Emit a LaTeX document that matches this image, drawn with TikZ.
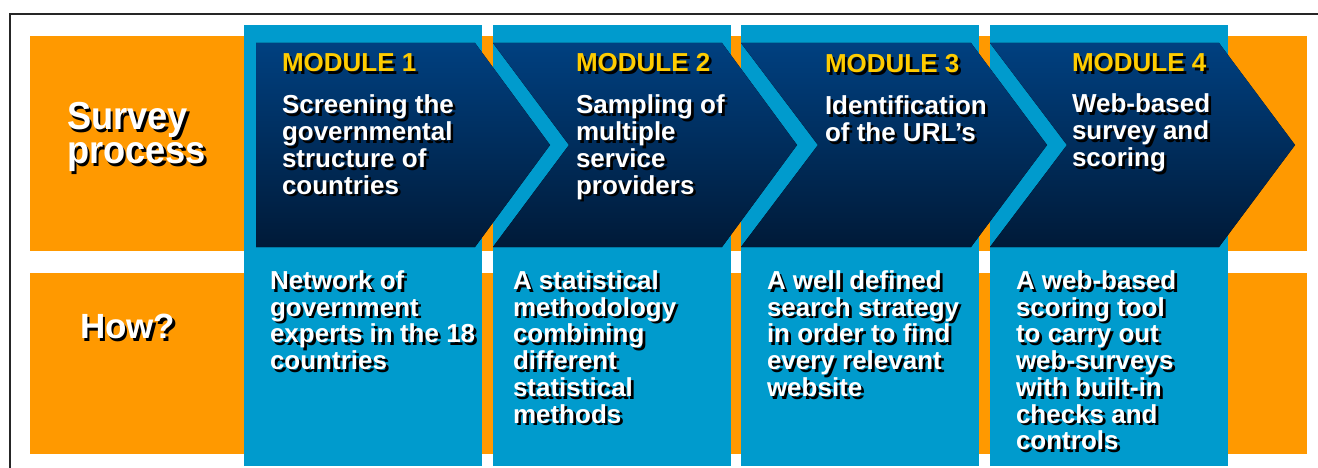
\documentclass[tikz,border=0pt]{standalone}
\usepackage{fontspec}
\setmainfont{Liberation Sans}
\definecolor{orng}{RGB}{255,153,0}
\definecolor{lblue}{RGB}{0,155,205}
\definecolor{navytop}{RGB}{0,64,128}
\definecolor{navybot}{RGB}{0,26,56}
\definecolor{ylw}{RGB}{255,204,0}
\tikzset{
  band/.style={fill=orng},
  column/.style={fill=lblue},
  chevron/.style={top color=navytop, bottom color=navybot, middle color=navybot!50!navytop},
  lbl/.style={anchor=base west, inner sep=0pt, outer sep=0pt, text=white},
  big/.style={lbl, font=\fontsize{39}{34.5}\selectfont\bfseries},
  how/.style={lbl, font=\fontsize{35}{36}\selectfont\bfseries},
  modhead/.style={lbl, text=ylw, font=\fontsize{26}{26.7}\selectfont\bfseries},
  body/.style={lbl, font=\fontsize{26}{26.7}\selectfont\bfseries},
}
\newcommand\shlabel[5][1]{%
  \node[#4, text=black] (#2s) at ([shift={(2.7,2.7)}]#3) {\scalebox{#1}[1]{\parbox[t]{300pt}{\raggedright #5}}};
  \node[#4] (#2) at (#3) {\scalebox{#1}[1]{\parbox[t]{300pt}{\raggedright #5}}};}
\begin{document}
\begin{tikzpicture}[x=1pt,y=-1pt]
\useasboundingbox (0,0) rectangle (1318,468);
\fill[white] (0,0) rectangle (1318,468);
% frame
\draw[line width=1.5pt, black!85] (10,470) -- (10,14) -- (1320,14);
% orange bands
\fill[band] (30,36) rectangle (1307,251);
\fill[band] (30,273) rectangle (1307,454);
% blue columns
\fill[column] (244,25) rectangle (482,466);
\fill[column] (493,25) rectangle (731,466);
\fill[column] (741,25) rectangle (979,466);
\fill[column] (990,25) rectangle (1228,466);
% chevrons
\fill[chevron] (256,43) -- (475,43) -- (550,145) -- (475,247) -- (256,247) -- cycle;
\fill[chevron] (493,43) -- (722,43) -- (797,145) -- (722,247) -- (493,247) -- (569,145) -- cycle;
\fill[chevron] (741,43) -- (971,43) -- (1047,145) -- (971,247) -- (741,247) -- (818,145) -- cycle;
\fill[chevron] (990,43) -- (1219,43) -- (1295,145) -- (1219,247) -- (990,247) -- (1067,145) -- cycle;
% row labels
\shlabel[0.93]{survey}{67,129.5}{big}{Survey\\process}
\shlabel{how}{80,338.5}{how}{How?}
% module headings
\shlabel{m1}{282,71.5}{modhead}{MODULE 1}
\shlabel{m2}{576,71.5}{modhead}{MODULE 2}
\shlabel{m3}{825,72.5}{modhead}{MODULE 3}
\shlabel{m4}{1072,71.5}{modhead}{MODULE 4}
% module texts
\shlabel{t1}{282,114}{body}{Screening the\\governmental\\structure of\\countries}
\shlabel{t2}{576,114}{body}{Sampling of\\multiple\\service\\providers}
\shlabel{t3}{825,115}{body}{Identification\\of the URL’s}
\shlabel{t4}{1072,113}{body}{Web-based\\survey and\\scoring}
% how texts
\shlabel{h1}{270,289.5}{body}{Network of\\government\\experts in the 18\\countries}
\shlabel{h2}{513,289.5}{body}{A statistical\\methodology\\combining\\different\\statistical\\methods}
\shlabel{h3}{767,289.5}{body}{A well defined\\search strategy\\in order to find\\every relevant\\website}
\shlabel{h4}{1016,289.5}{body}{A web-based\\scoring tool\\to carry out\\web-surveys\\with built-in\\checks and\\controls}
\end{tikzpicture}
\end{document}
